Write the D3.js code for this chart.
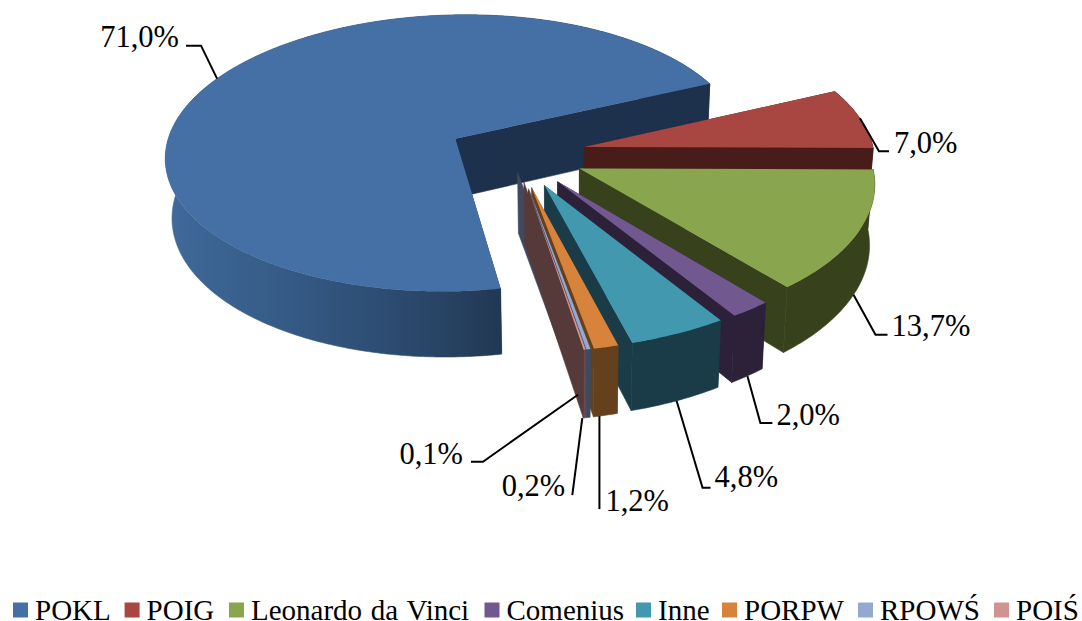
<!DOCTYPE html>
<html><head><meta charset="utf-8">
<script src="https://cdn.jsdelivr.net/npm/d3@7/dist/d3.min.js"></script>
<style>html,body{margin:0;padding:0;background:#fff}svg{display:block}text{font-family:"Liberation Serif",serif;fill:#000}</style>
</head><body><svg id="c" width="1082" height="621"></svg>
<script>
// ---- data ----
const categories = ["POKL","POIG","Leonardo da Vinci","Comenius","Inne","PORPW","RPOWŚ","POIŚ"];
const values = [71.0,7.0,13.7,2.0,4.8,1.2,0.2,0.1];
const valueLabels = ["71,0%","7,0%","13,7%","2,0%","4,8%","1,2%","0,2%","0,1%"];
// ---- style ----
const topColors = ["#4470a6","#a84642","#89a54e","#71588f","#4198af","#d8833c","#93a9cf","#d19392"];
const wallColors = ["url(#blueWall)","#481c18","#37421d","#2c2139","#1a3c48","#65401c","#3f4a60","#6a4a4a"];
const endWallColors = ["#1d314c","#481c18","#37421d","#2c2139","#1a3c48","#65401c","#3f4a60","#563a3a"];
// how far each end wall runs back past its slice's apex (fraction of radius)
const wallBackReach = [0,0,0,0,0,0,0.11,0.04];
const wallBackSkew = -0.17;
const legendLeft = [13,124.6,229,484.5,636,722,858,994];
// ---- 3D pie geometry ----
const firstAngle = 169.6*Math.PI/180, explode = 0.24, persp = 0.105, vanishX = 565, depth = 59.5, shrink = 0.017, cx = 516, cy = 154;
const xS = d3.scaleLinear().domain([-1,1]).range([cx-290.5,cx+290.5]);
const yS = d3.scaleLinear().domain([-1,1]).range([cy-140,cy+140]);
const pieGen = d3.pie().sort(null).startAngle(firstAngle).endAngle(firstAngle+2*Math.PI);
const slices = pieGen(values);
function project(sl, r, a, zf){
  const m=(sl.startAngle+sl.endAngle)/2;
  const X=explode*Math.sin(m)+r*Math.sin(a), Y=-explode*Math.cos(m)-r*Math.cos(a);
  const s=1/(1-persp*Y);
  return [vanishX+(xS(X)-vanishX)*s*(1-shrink*zf), cy+(yS(Y)-cy)*s+depth*s*zf];
}
const line=d3.line();
const arcAngles=(a0,a1)=>{const n=Math.max(2,Math.ceil((a1-a0)/0.01));return d3.range(n+1).map(i=>a0+(a1-a0)*i/n);};
const svg=d3.select("#c");
const defs=svg.append("defs");
const grad=defs.append("linearGradient").attr("id","blueWall").attr("gradientUnits","userSpaceOnUse")
  .attr("x1",165).attr("x2",505).attr("y1",0).attr("y2",0);
[[0,"#406a9a"],[0.45,"#325680"],[0.75,"#2a4769"],[1,"#213753"]].forEach(d=>grad.append("stop").attr("offset",d[0]).attr("stop-color",d[1]));
const pieG=svg.append("g");
slices.forEach((sl,i)=>{
  const g=pieG.append("g");
  const a0=sl.startAngle,a1=sl.endAngle;
  const as=arcAngles(a0,a1);
  const topArc=as.map(a=>project(sl,1,a,0)), botArc=as.map(a=>project(sl,1,a,1));
  // start wall (faces away: painted first)
  g.append("path").attr("d",line([project(sl,0,a0,0),project(sl,1,a0,0),project(sl,1,a0,1),project(sl,0,a0,1)])+"Z").attr("fill",endWallColors[i]);
  // outer wall
  g.append("path").attr("d",line(topArc.concat(botArc.slice().reverse()))+"Z").attr("fill",wallColors[i]).attr("stroke",wallColors[i]).attr("stroke-width",0.6);
  // end wall
  const back=-wallBackReach[i], ab=a1+(back?wallBackSkew:0);
  g.append("path").attr("d",line([project(sl,back,ab,0),project(sl,1,a1,0),project(sl,1,a1,1),project(sl,back,ab,1)])+"Z").attr("fill",endWallColors[i]).attr("stroke",endWallColors[i]).attr("stroke-width",0.6);
  // top
  g.append("path").attr("d",line([project(sl,0,a0,0)].concat(topArc))+"Z").attr("fill",topColors[i]);
});
// ---- data labels ----
// zf: height on the wall the leader touches; da: angle nudge; leader: offsets from the anchor; tx,ty: text offset from last leader point
const labelLayout=[
 {zf:0,   da:0,    leader:[[-16,-33],[-31,-33]], tx:-7, ty:-9,  anchor:"end"},
 {zf:0,   da:0,    leader:[[19,33],[29,33]],     tx:5,  ty:-8,  anchor:"start"},
 {zf:1,   da:0,    leader:[[22,40],[34,40]],     tx:4,  ty:-9,  anchor:"start"},
 {zf:1,   da:0,    leader:[[13,47],[25,47]],     tx:4,  ty:-8,  anchor:"start"},
 {zf:1,   da:0,    leader:[[26,87],[34,87]],     tx:4,  ty:-11, anchor:"start"},
 {zf:1,   da:0.019,leader:[[0,93]],              tx:6,  ty:-8,  anchor:"start"},
 {zf:1,   da:0.018,leader:[[-10,77]],            tx:-7, ty:-9,  anchor:"end"},
 {zf:0.65,da:0.02, leader:[[-95,67],[-107,67]],  tx:-8, ty:-8,  anchor:"end"}
];
slices.forEach((sl,i)=>{
  const L=labelLayout[i], m=(sl.startAngle+sl.endAngle)/2+L.da;
  const p=project(sl,1,m,L.zf);
  const pts=[p].concat(L.leader.map(o=>[p[0]+o[0],p[1]+o[1]]));
  svg.append("path").attr("d",line(pts)).attr("fill","none").attr("stroke","#000").attr("stroke-width",2);
  const e=pts[pts.length-1];
  svg.append("text").attr("x",e[0]+L.tx).attr("y",e[1]+L.ty).attr("text-anchor",L.anchor)
    .attr("dominant-baseline","central").attr("font-size",30.5).text(valueLabels[i]);
});
// ---- legend ----
const legend=svg.append("g");
categories.forEach((c,i)=>{
  legend.append("rect").attr("x",legendLeft[i]).attr("y",602.5).attr("width",15).attr("height",15).attr("fill",topColors[i]);
  legend.append("text").attr("x",legendLeft[i]+22).attr("y",620).attr("font-size",29).attr("word-spacing",1.5).text(c);
});
</script></body></html>
